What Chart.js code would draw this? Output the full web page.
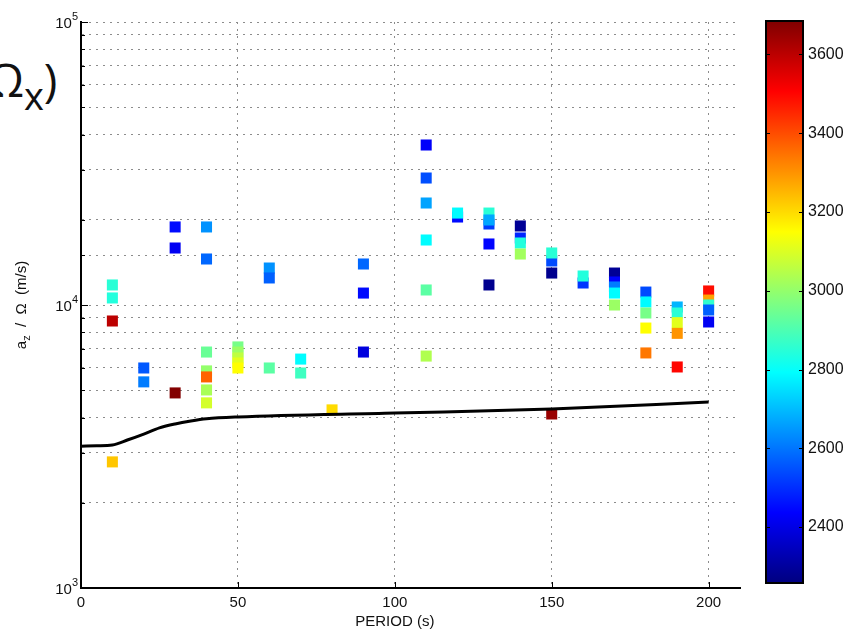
<!DOCTYPE html>
<html lang="en">
<head>
  <meta charset="UTF-8">
  <title>a_z / Ω vs period</title>
  <script src="https://cdn.jsdelivr.net/npm/chart.js@4.4.1/dist/chart.umd.min.js"></script>
  <style>
    html, body { margin: 0; padding: 0; background: #fff; }
    #wrap { position: relative; width: 853px; height: 636px; overflow: hidden; }
    #main { position: absolute; left: 0; top: 0; }
    #cbar { position: absolute; left: 740px; top: 0; }
    #frag {
      position: absolute; left: -12px; top: 56px;
      font: 46px "Open Sans", sans-serif; line-height: 1; color: #111;
    }
    #frag span { font-size: 38px; position: relative; top: 13px; }
  </style>
</head>
<body>
  <div id="wrap">
    <div id="frag">Ω<span>x</span>)</div>
    <canvas id="main" width="853" height="636"></canvas>
    <canvas id="cbar" width="113" height="636"></canvas>
  </div>
  <script>
    // measurements: period (s), a_z/Ω (m/s), colour value
    const periods = [
      10, 10, 10, 10,
      20, 20,
      30, 30, 30,
      40, 40, 40, 40, 40, 40, 40,
      50, 50, 50, 50, 50,
      60, 60, 60,
      70, 70,
      80,
      90, 90, 90,
      110, 110, 110, 110, 110, 110,
      120, 120,
      130, 130, 130, 130, 130,
      140, 140, 140, 140,
      150, 150, 150, 150,
      160, 160,
      170, 170, 170, 170, 170,
      180, 180, 180, 180, 180,
      190, 190, 190, 190, 190,
      200, 200, 200, 200, 200
    ];
    const ratios = [
      11770, 10590, 8780, 2790,
      5990, 5350,
      18870, 15900, 4890,
      18870, 14540, 6820, 5850, 5570, 5010, 4510,
      7110, 6820, 6500, 6240, 5990,
      13510, 12460, 5990,
      6440, 5750,
      4260,
      13960, 11020, 6820,
      36760, 28100, 22930, 16970, 11300, 6600,
      20460, 21130,
      19330, 21130, 19970, 16430, 11770,
      19020, 17250, 16560, 15140,
      14310, 15270, 12970, 4120,
      11960, 12660,
      12970, 12060, 11580, 11020, 10000,
      11110, 10250, 9370, 8290, 6770,
      9840, 9370, 8660, 7940, 6040,
      11210, 10410, 10000, 9600, 8710
    ];
    const colourValues = [
      2850, 2840, 3600, 3230,
      2560, 2610,
      2450, 2420, 3680,
      2640, 2580, 2940, 3000, 3370, 3030, 3090,
      2960, 3010, 3060, 3110, 3150,
      2640, 2570, 2920,
      2790, 2880,
      3200,
      2580, 2450, 2390,
      2430, 2545, 2665, 2790, 2920, 3040,
      2450, 2790,
      2520, 2850, 2670, 2440, 2280,
      2290, 2490, 2840, 3020,
      2540, 2850, 2280, 3650,
      2510, 2840,
      2290, 2440, 2610, 2790, 3010,
      2540, 2790, 2960, 3150, 3340,
      2690, 2850, 3110, 3300, 3500,
      3490, 3280, 2860, 2570, 2420
    ];

    // reference curve
    const curvePeriods = [0, 5, 10, 15, 20, 25, 30, 35, 40, 50, 100, 150, 200];
    const curveRatios = [3170, 3180, 3200, 3340, 3500, 3680, 3800, 3890, 3960, 4020, 4150, 4290, 4540];

    const cMin = 2258, cMax = 3685;
    const colourTicks = [2400, 2600, 2800, 3000, 3200, 3400, 3600];
    const periodTicks = [0, 50, 100, 150, 200];

    const FONT = '"Liberation Sans", Arial, sans-serif';

    function jet(v) {
      const t = Math.min(1, Math.max(0, (v - cMin) / (cMax - cMin)));
      const ch = k => Math.round(255 * Math.min(1, Math.max(0, 1.5 - Math.abs(4 * t - k))));
      return 'rgb(' + ch(3) + ',' + ch(2) + ',' + ch(1) + ')';
    }

    function isDecade(v) {
      const e = Math.round(Math.log10(v));
      return Math.abs(Math.pow(10, e) - v) < 1e-6 * v ? e : null;
    }

    // axis titles, 10^n labels and the small inward tick marks
    const axisDecor = {
      id: 'axisDecor',
      afterDraw(chart) {
        const { ctx, chartArea: a, scales: { x, y } } = chart;
        ctx.save();
        ctx.strokeStyle = '#000';
        ctx.lineWidth = 1;
        ctx.beginPath();
        y.ticks.forEach(t => {
          const py = Math.round(y.getPixelForValue(t.value)) + 0.5;
          const len = isDecade(t.value) !== null ? 7 : 4;
          ctx.moveTo(a.left, py);
          ctx.lineTo(a.left + len, py);
        });
        x.ticks.forEach(t => {
          const px = Math.round(x.getPixelForValue(t.value)) + 0.5;
          ctx.moveTo(px, a.bottom);
          ctx.lineTo(px, a.bottom - 6);
        });
        ctx.stroke();

        ctx.fillStyle = '#111';
        // decade labels: "10" with a raised exponent
        y.ticks.forEach(t => {
          const e = isDecade(t.value);
          if (e === null) return;
          const py = y.getPixelForValue(t.value);
          ctx.font = '11px ' + FONT;
          ctx.textAlign = 'right';
          ctx.textBaseline = 'alphabetic';
          const wExp = ctx.measureText(String(e)).width;
          ctx.fillText(String(e), a.left - 3, py - 2);
          ctx.font = '15px ' + FONT;
          ctx.fillText('10', a.left - 3 - wExp, py + 6);
        });

        ctx.textBaseline = 'middle';
        ctx.textAlign = 'center';
        ctx.font = '15px ' + FONT;
        ctx.fillText('PERIOD (s)', x.getPixelForValue(100), 622);

        // y title with subscript z
        const big = '15px ' + FONT, small = '11px ' + FONT;
        ctx.font = big;
        const wA = ctx.measureText('a').width;
        const rest = '  /  Ω  (m/s)';
        const wRest = ctx.measureText(rest).width;
        ctx.font = small;
        const wZ = ctx.measureText('z').width;
        const total = wA + wZ + wRest;
        ctx.translate(26, 305);
        ctx.rotate(-Math.PI / 2);
        ctx.textAlign = 'left';
        ctx.textBaseline = 'alphabetic';
        let cx = -total / 2;
        ctx.font = big;
        ctx.fillText('a', cx, 0);
        cx += wA;
        ctx.font = small;
        ctx.fillText('z', cx, 4);
        cx += wZ;
        ctx.font = big;
        ctx.fillText(rest, cx, 0);
        ctx.restore();
      }
    };

    const dotted = '#8c8c8c';

    new Chart(document.getElementById('main'), {
      type: 'scatter',
      data: {
        datasets: [
          {
            type: 'line',
            data: curvePeriods.map((p, i) => ({ x: p, y: curveRatios[i] })),
            borderColor: '#000',
            borderWidth: 3,
            pointRadius: 0,
            fill: false,
            cubicInterpolationMode: 'monotone',
            order: 0
          },
          {
            data: periods.map((p, i) => ({ x: p, y: ratios[i] })),
            pointStyle: 'rect',
            pointRadius: 7.8,
            pointBorderWidth: 0,
            pointBackgroundColor: colourValues.map(jet),
            order: 1
          }
        ]
      },
      options: {
        responsive: false,
        animation: false,
        events: [],
        layout: { padding: { top: 22, right: 113, left: 0, bottom: 0 } },
        plugins: { legend: { display: false }, tooltip: { enabled: false } },
        scales: {
          x: {
            type: 'linear',
            min: 0,
            max: 210,
            afterFit: s => { s.height = 48; },
            afterBuildTicks: s => { s.ticks = periodTicks.map(v => ({ value: v })); },
            ticks: { padding: 6, color: '#111', font: { family: FONT, size: 15 } },
            grid: {
              drawTicks: false,
              color: c => (c.tick && c.tick.value === 0 ? 'rgba(0,0,0,0)' : dotted)
            },
            border: { display: true, color: '#000', width: 2, dash: [2, 5] }
          },
          y: {
            type: 'logarithmic',
            min: 1000,
            max: 100000,
            afterFit: s => { s.width = 81; },
            ticks: { autoSkip: false, display: false },
            grid: { drawTicks: false, color: dotted },
            border: { display: true, color: '#000', width: 2, dash: [2, 5] }
          }
        }
      },
      plugins: [axisDecor]
    });

    // colour bar: gradient filled into the chart area of its own scale
    const colourBar = {
      id: 'colourBar',
      beforeDraw(chart) {
        const { ctx, chartArea: a, scales: { y } } = chart;
        const g = ctx.createLinearGradient(0, y.getPixelForValue(cMin), 0, y.getPixelForValue(cMax));
        for (let i = 0; i <= 64; i++) {
          g.addColorStop(i / 64, jet(cMin + (cMax - cMin) * i / 64));
        }
        ctx.save();
        ctx.fillStyle = g;
        ctx.fillRect(a.left, a.top, a.right - a.left, a.bottom - a.top);
        ctx.restore();
      },
      afterDraw(chart) {
        const { ctx, chartArea: a, scales: { y } } = chart;
        ctx.save();
        ctx.strokeStyle = '#000';
        ctx.lineWidth = 1;
        ctx.beginPath();
        y.ticks.forEach(t => {
          const py = Math.round(y.getPixelForValue(t.value)) + 0.5;
          ctx.moveTo(a.left, py); ctx.lineTo(a.left + 4, py);
          ctx.moveTo(a.right, py); ctx.lineTo(a.right - 4, py);
        });
        ctx.stroke();
        ctx.lineWidth = 2;
        ctx.strokeRect(a.left, a.top, a.right - a.left, a.bottom - a.top);
        ctx.restore();
      }
    };

    new Chart(document.getElementById('cbar'), {
      type: 'scatter',
      data: { datasets: [] },
      options: {
        responsive: false,
        animation: false,
        events: [],
        layout: { padding: { top: 21, bottom: 53, left: 26, right: 0 } },
        plugins: { legend: { display: false }, tooltip: { enabled: false } },
        scales: {
          x: { display: false },
          y: {
            position: 'right',
            min: cMin,
            max: cMax,
            afterFit: s => { s.width = 50; },
            afterBuildTicks: s => { s.ticks = colourTicks.map(v => ({ value: v })); },
            ticks: {
              padding: 5,
              color: '#111',
              font: { family: FONT, size: 16 },
              callback: v => String(v)
            },
            grid: { display: false, drawTicks: false },
            border: { display: false }
          }
        }
      },
      plugins: [colourBar]
    });
  </script>
</body>
</html>
